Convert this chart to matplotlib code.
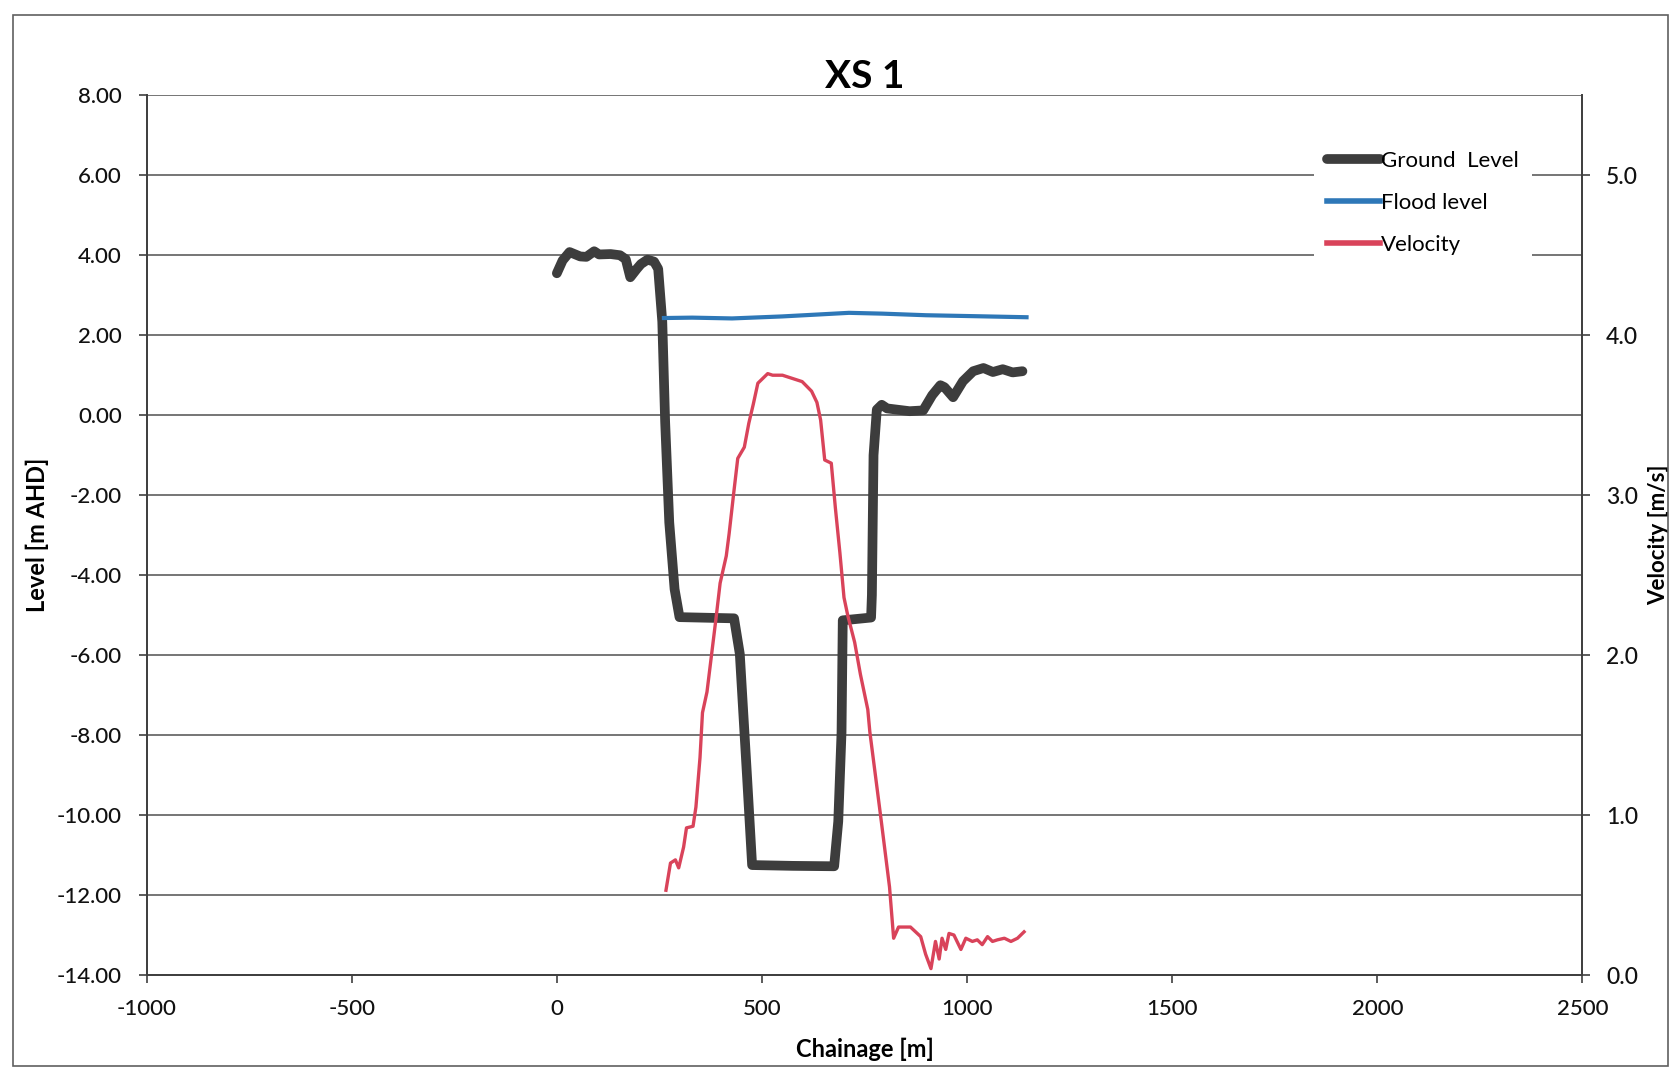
import matplotlib
matplotlib.use("Agg")
import matplotlib.pyplot as plt
from matplotlib.patches import Rectangle

plt.rcParams['axes.unicode_minus'] = False
plt.rcParams['font.family'] = ['Lato', 'DejaVu Sans']

# ground level [m AHD] along chainage
ground_ch = [0, 14, 31, 57, 72, 91, 103, 131, 154, 168, 179, 195, 205, 221, 237, 247,
             257, 264, 274, 287, 299, 432, 446, 464, 476, 575, 676, 686, 694, 697,
             766, 768, 772, 780, 792, 805, 860, 893, 915, 935, 945, 966, 990, 1015,
             1040, 1063, 1087, 1111, 1135]
ground_lvl = [3.55, 3.87, 4.08, 3.97, 3.96, 4.10, 4.02, 4.03, 4.00, 3.90, 3.45, 3.66,
              3.78, 3.89, 3.84, 3.66, 2.34, -0.17, -2.68, -4.35, -5.05, -5.08, -5.97,
              -9.10, -11.25, -11.27, -11.28, -10.16, -7.93, -5.13, -5.06, -4.5, -1.0,
              0.14, 0.26, 0.17, 0.10, 0.12, 0.50, 0.75, 0.70, 0.45, 0.85, 1.10, 1.18,
              1.08, 1.15, 1.07, 1.10]

# flood level
flood_ch = [261, 330, 427, 549, 640, 712, 793, 900, 1000, 1145]
flood_lvl = [2.43, 2.44, 2.42, 2.47, 2.52, 2.56, 2.54, 2.50, 2.48, 2.45]

# velocity [m/s]
vel_ch = [266, 277, 289, 297, 309, 316, 332, 339, 349, 355, 366, 377, 388, 398, 413,
          420, 431, 441, 457, 468, 479, 490, 498, 514, 526, 550, 574, 598, 621, 634,
          643, 653, 669, 679, 690, 700, 709, 726, 740, 758, 763, 777, 791, 811, 821,
          833, 862, 887, 899, 912, 923, 932, 939, 948, 956, 968, 985, 997, 1013, 1025,
          1037, 1050, 1062, 1074, 1091, 1107, 1123, 1139]
vel = [0.53, 0.70, 0.72, 0.67, 0.80, 0.92, 0.93, 1.05, 1.36, 1.64, 1.77, 2.00, 2.23,
       2.45, 2.62, 2.76, 3.01, 3.23, 3.30, 3.45, 3.57, 3.70, 3.72, 3.76, 3.75, 3.75,
       3.73, 3.71, 3.65, 3.58, 3.47, 3.22, 3.20, 2.92, 2.64, 2.36, 2.25, 2.08, 1.88,
       1.66, 1.52, 1.24, 0.96, 0.55, 0.23, 0.30, 0.30, 0.24, 0.13, 0.04, 0.21, 0.10,
       0.23, 0.16, 0.26, 0.25, 0.16, 0.23, 0.21, 0.22, 0.19, 0.24, 0.21, 0.22, 0.23,
       0.21, 0.23, 0.27]

level_ticks = list(range(-14, 9, 2))
vel_ticks = [0.0, 1.0, 2.0, 3.0, 4.0, 5.0]
ch_ticks = list(range(-1000, 2501, 500))

fig = plt.figure(figsize=(16.78, 10.83), dpi=100)
fig.subplots_adjust(left=0.0874, right=0.943, bottom=0.0997, top=0.912)
ax = fig.add_subplot(111)
ax2 = ax.twinx()

ax.plot(ground_ch, ground_lvl, color='#3d3d3d', lw=7, solid_capstyle='round',
        solid_joinstyle='round', label='Ground  Level', zorder=3)
ax.plot(flood_ch, flood_lvl, color='#2e78b8', lw=3, label='Flood level', zorder=3)
ax2.plot(vel_ch, vel, color='#d9435a', lw=2.4, label='Velocity')

ax.set_xlim(-1000, 2500)
ax.set_ylim(-14, 8)
ax2.set_ylim(0, 5.5)
ax.set_xticks(ch_ticks)
ax.set_yticks(level_ticks)
ax.set_yticklabels(['%.2f' % t for t in level_ticks])
ax2.set_yticks(vel_ticks)
ax2.set_yticklabels(['%.1f' % t for t in vel_ticks])

ax.grid(axis='y', color='#505050', lw=1.1)
ax.set_axisbelow(True)

for a in (ax, ax2):
    a.spines['top'].set_visible(False)
    for s in ('left', 'right', 'bottom'):
        a.spines[s].set_color('#404040')
        a.spines[s].set_linewidth(1.3)
ax.tick_params(axis='y', direction='out', length=6, width=1.2, color='#404040',
               labelsize=16, labelcolor='#111111', pad=12)
ax.tick_params(axis='x', direction='out', length=6, width=1.2, color='#404040',
               labelsize=16, labelcolor='#111111', pad=11)
ax2.tick_params(axis='y', direction='out', length=6, width=1.2, color='#404040',
                labelsize=16.5, labelcolor='#111111', pad=11)
for lab in ax.get_xticklabels() + ax.get_yticklabels() + ax2.get_yticklabels():
    lab.set_fontweight('medium')

ax.set_title('XS 1', fontsize=28, fontweight='bold', pad=5)
ax.set_xlabel('Chainage [m]', fontsize=17, fontweight='bold', labelpad=14)
ax.set_ylabel('Level [m AHD]', fontsize=17, fontweight='bold')
ax2.set_ylabel('Velocity [m/s]', fontsize=16, fontweight='bold')
ax.yaxis.set_label_coords(-0.068, 0.5)
ax2.yaxis.set_label_coords(1.046, 0.5)

h1, l1 = ax.get_legend_handles_labels()
h2, l2 = ax2.get_legend_handles_labels()
leg = ax2.legend(h1 + h2, l1 + l2, loc='upper left', bbox_to_anchor=(0.805, 0.965),
                 frameon=True, fontsize=16, handlelength=2.4, handletextpad=0.05,
                 labelspacing=1.0, borderpad=0.6)
leg.get_frame().set_facecolor('white')
leg.get_frame().set_edgecolor('none')
leg.get_frame().set_alpha(1)
leg_lw = [7, 4, 4]
for line, w in zip(leg.get_lines(), leg_lw):
    line.set_linewidth(w)

# chart area border
fig.patches.append(Rectangle((0.008, 0.016), 0.986, 0.97, transform=fig.transFigure,
                             fill=False, edgecolor='#606060', lw=1.2))

fig.savefig('out.png', dpi=100)
